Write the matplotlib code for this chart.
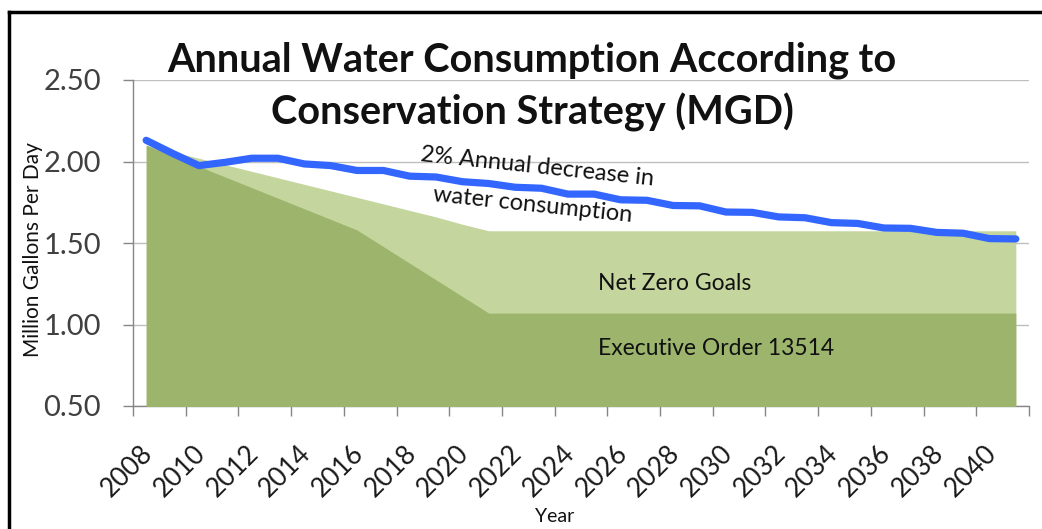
import matplotlib
matplotlib.use("Agg")
import matplotlib.pyplot as plt
from matplotlib.lines import Line2D
from matplotlib.transforms import ScaledTranslation

years = [2008, 2009, 2010, 2011, 2012, 2013, 2014, 2015, 2016, 2017, 2018, 2019,
         2020, 2021, 2022, 2023, 2024, 2025, 2026, 2027, 2028, 2029, 2030, 2031,
         2032, 2033, 2034, 2035, 2036, 2037, 2038, 2039, 2040, 2041]

annual_decrease = [2.13, 2.05, 1.975, 1.995, 2.02, 2.02, 1.985, 1.975, 1.945, 1.945,
                   1.91, 1.905, 1.876, 1.865, 1.842, 1.836, 1.80, 1.80, 1.765, 1.762,
                   1.73, 1.728, 1.69, 1.688, 1.66, 1.655, 1.625, 1.62, 1.592, 1.59,
                   1.565, 1.56, 1.527, 1.525]

net_zero = [2.10, 2.06, 2.02, 1.98, 1.94, 1.90, 1.86, 1.82, 1.78, 1.74, 1.70, 1.66,
            1.615, 1.575, 1.575, 1.575, 1.575, 1.575, 1.575, 1.575, 1.575, 1.575,
            1.575, 1.575, 1.575, 1.575, 1.575, 1.575, 1.575, 1.575, 1.575, 1.575,
            1.575, 1.575]

exec_order = [2.10, 2.035, 1.97, 1.905, 1.84, 1.775, 1.71, 1.645, 1.58, 1.478,
              1.376, 1.274, 1.172, 1.07, 1.07, 1.07, 1.07, 1.07, 1.07, 1.07, 1.07,
              1.07, 1.07, 1.07, 1.07, 1.07, 1.07, 1.07, 1.07, 1.07, 1.07, 1.07,
              1.07, 1.07]

y_ticks = [0.50, 1.00, 1.50, 2.00, 2.50]

FONT = ["Lato", "DejaVu Sans"]
plt.rcParams["font.family"] = FONT

fig = plt.figure(figsize=(10.42, 5.29), dpi=100)
ax = fig.add_axes([133 / 1042, 1 - 406 / 529, (1029 - 133) / 1042, (406 - 80) / 529])

x = list(range(len(years)))
ax.fill_between(x, 0, net_zero, color="#C4D69E", linewidth=0, zorder=2)
ax.fill_between(x, 0, exec_order, color="#9CB46B", linewidth=0, zorder=3)
ax.plot(x, annual_decrease, color="#3366FF", linewidth=5.2, solid_capstyle="round",
        solid_joinstyle="round", zorder=5)

ax.set_xlim(-0.5, len(years) - 0.5)
ax.set_ylim(0.5, 2.5)

# y axis
ax.set_yticks(y_ticks)
ax.set_yticklabels([f"{v:.2f}" for v in y_ticks], fontsize=21, color="#404040")
ax.yaxis.grid(True, color="#BFBFBF", linewidth=1.0, zorder=0)
ax.set_axisbelow(True)

# x axis: tick marks between category pairs, labels at category centers
major = [i - 0.5 for i in range(0, len(years) + 1, 2)]
ax.set_xticks(major)
ax.set_xticklabels([""] * len(major))
ax.set_xticks(list(range(0, len(years), 2)), minor=True)
labels = ax.set_xticklabels([str(years[i]) for i in range(0, len(years), 2)], minor=True,
                            rotation=45, ha="right", va="top", rotation_mode="anchor",
                            fontsize=19, color="#1a1a1a")
ax.tick_params(axis="x", which="minor", length=0, pad=25)
ax.tick_params(axis="x", which="major", length=7, width=1, color="#868686", direction="out")
ax.tick_params(axis="y", length=7, width=1, color="#868686", direction="out", pad=16)
shift = ScaledTranslation(-6 / 100, 0, fig.dpi_scale_trans)
for lab in labels:
    lab.set_transform(lab.get_transform() + shift)

for s in ["top", "right"]:
    ax.spines[s].set_visible(False)
for s in ["left", "bottom"]:
    ax.spines[s].set_color("#868686")
    ax.spines[s].set_linewidth(1.0)

# annotations
ax.text(14.75, 1.852, "2% Annual decrease in\nwater consumption", fontsize=17,
        rotation=-6, ha="center", va="center", multialignment="center",
        color="#111111", zorder=6, linespacing=2.0)
ax.text(17.15, 1.25, "Net Zero Goals", fontsize=16.5, ha="left", va="center",
        color="#111111", zorder=6)
ax.text(17.15, 0.85, "Executive Order 13514", fontsize=16.5, ha="left", va="center",
        color="#111111", zorder=6)

# title and axis labels
fig.text(532 / 1042, 1 - 87 / 529,
         "Annual Water Consumption According to\nConservation Strategy (MGD)",
         fontsize=28.5, fontweight="bold", ha="center", va="center",
         multialignment="center", linespacing=1.45, color="#111111")
fig.text(33 / 1042, 1 - 250 / 529, "Million Gallons Per Day", fontsize=15,
         rotation=90, ha="center", va="center", color="#111111")
fig.text(555 / 1042, 1 - 517 / 529, "Year", fontsize=14, ha="center", va="center",
         color="#111111")

# outer black frame (left and top visible)
fig.add_artist(Line2D([9 / 1042, 9 / 1042], [0, 1 - 12 / 529], color="black",
                      linewidth=2.5, transform=fig.transFigure))
fig.add_artist(Line2D([9 / 1042, 1], [1 - 12 / 529, 1 - 12 / 529], color="black",
                      linewidth=2.5, transform=fig.transFigure))

fig.savefig("out.png", dpi=100)
